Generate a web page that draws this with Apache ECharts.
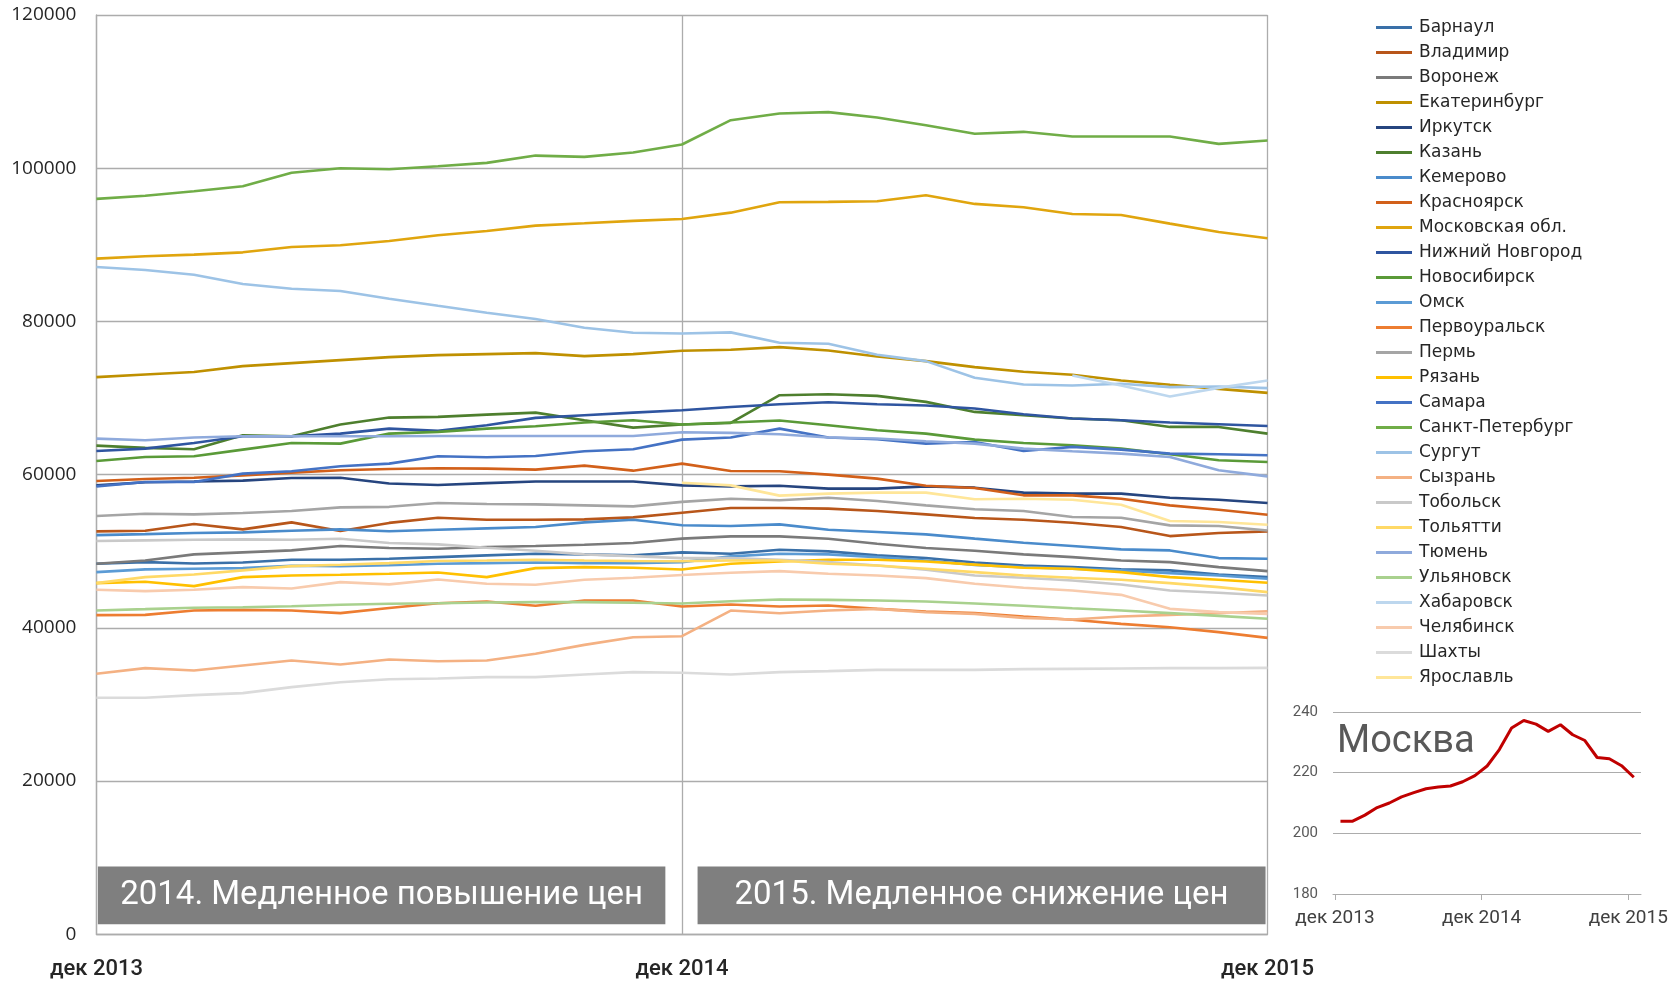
<!DOCTYPE html>
<html>
<head>
<meta charset="utf-8">
<script src="https://cdn.jsdelivr.net/npm/echarts@6/dist/echarts.min.js"></script>
<style>
html, body { margin: 0; padding: 0; background: #fff; }
#chart { width: 1680px; height: 983px; }
</style>
</head>
<body>
<div id="chart"></div>
<script>
// ---- data ----
const tickLabels = ['дек 2013', 'дек 2014', 'дек 2015'];

const cities = [
  'Барнаул', 'Владимир', 'Воронеж', 'Екатеринбург', 'Иркутск', 'Казань', 'Кемерово',
  'Красноярск', 'Московская обл.', 'Нижний Новгород', 'Новосибирск', 'Омск',
  'Первоуральск', 'Пермь', 'Рязань', 'Самара', 'Санкт-Петербург', 'Сургут', 'Сызрань',
  'Тобольск', 'Тольятти', 'Тюмень', 'Ульяновск', 'Хабаровск', 'Челябинск', 'Шахты', 'Ярославль'
];

const colors = [
  '#3A70A8', '#B8561A', '#7A7A7A', '#BF9000', '#26457F', '#4E7F2E', '#4A8BCB',
  '#D2601A', '#E0A50E', '#2F55A0', '#5A9A38', '#5B9BD5',
  '#ED7D31', '#A5A5A5', '#FFC000', '#4472C4', '#70AD47', '#9DC3E6', '#F4B183',
  '#C9C9C9', '#FFD966', '#8FAADC', '#A9D18E', '#BDD7EE', '#F8CBAD', '#DBDBDB', '#FFE699'
];

const barnaul = [48370, 48580, 48410, 48540, 48890, 48890, 49020, 49240, 49460, 49680, 49590, 49460, 49850, 49670, 50200, 49980, 49460, 49110, 48540, 48150, 47930, 47630, 47500, 46970, 46620];
const vladimir = [52590, 52680, 53550, 52860, 53770, 52640, 53700, 54380, 54120, 54120, 54160, 54420, 55030, 55640, 55640, 55560, 55250, 54820, 54350, 54120, 53730, 53160, 51980, 52380, 52590];
const voronezh = [48370, 48800, 49590, 49850, 50110, 50680, 50420, 50330, 50550, 50680, 50850, 51070, 51650, 51940, 51940, 51630, 50980, 50420, 50060, 49590, 49240, 48800, 48580, 47930, 47410];
const ekaterinburg = [72730, 73080, 73390, 74170, 74560, 74950, 75340, 75600, 75730, 75860, 75470, 75730, 76170, 76300, 76650, 76210, 75430, 74820, 74040, 73430, 73040, 72290, 71730, 71200, 70680];
const irkutsk = [58600, 59000, 59100, 59220, 59570, 59600, 58850, 58650, 58900, 59100, 59100, 59100, 58600, 58470, 58560, 58170, 58170, 58470, 58300, 57650, 57520, 57520, 56990, 56730, 56300];
const kazan = [63790, 63490, 63310, 65140, 65010, 66540, 67450, 67540, 67840, 68100, 67100, 66140, 66540, 66750, 70370, 70500, 70280, 69500, 68190, 67760, 67320, 67100, 66230, 66230, 65360];
const kemerovo = [52110, 52240, 52380, 52460, 52680, 52860, 52610, 52810, 52990, 53160, 53770, 54120, 53400, 53290, 53510, 52810, 52510, 52200, 51650, 51110, 50680, 50240, 50110, 49110, 49020];
const krasnoyarsk = [59170, 59430, 59600, 59910, 60260, 60570, 60740, 60830, 60780, 60650, 61180, 60520, 61440, 60480, 60440, 60000, 59480, 58560, 58260, 57300, 57300, 56860, 55990, 55420, 54770];
const moscowRegion = [88200, 88500, 88720, 89020, 89720, 89940, 90500, 91240, 91810, 92510, 92810, 93120, 93380, 94200, 95560, 95600, 95690, 96470, 95340, 94900, 94030, 93900, 92770, 91680, 90850];
const nizhny = [63090, 63400, 64140, 65010, 65010, 65360, 66010, 65710, 66450, 67410, 67760, 68100, 68410, 68840, 69190, 69450, 69190, 69020, 68630, 67890, 67320, 67100, 66800, 66580, 66360];
const novosibirsk = [61790, 62310, 62400, 63270, 64140, 64050, 65360, 65580, 66010, 66320, 66800, 67100, 66540, 66800, 67060, 66450, 65790, 65360, 64570, 64140, 63830, 63400, 62660, 61870, 61660];
const omsk = [47280, 47630, 47710, 47800, 48110, 48060, 48170, 48370, 48450, 48540, 48450, 48450, 48580, 49330, 49670, 49590, 49240, 48800, 48200, 47930, 47710, 47500, 47150, 46840, 46410];
const pervouralsk = [41660, 41700, 42270, 42350, 42270, 41920, 42600, 43220, 43440, 42880, 43570, 43570, 42790, 43050, 42790, 42920, 42480, 42140, 41920, 41480, 41050, 40520, 40090, 39440, 38690];
const perm = [54600, 54900, 54820, 54990, 55250, 55730, 55800, 56300, 56170, 56120, 55990, 55860, 56450, 56860, 56650, 56990, 56560, 55990, 55490, 55250, 54470, 54380, 53380, 53290, 52720];
const ryazan = [45840, 46010, 45450, 46620, 46840, 46930, 47060, 47230, 46620, 47800, 47930, 47840, 47620, 48370, 48670, 48890, 48890, 48670, 48260, 47840, 47710, 47280, 46620, 46280, 45880];
const samara = [58470, 59040, 59040, 60130, 60440, 61090, 61440, 62400, 62270, 62440, 63050, 63310, 64570, 64840, 66010, 64840, 64620, 64050, 64270, 63090, 63620, 63270, 62740, 62660, 62530];
const spb = [96000, 96400, 97000, 97650, 99400, 100000, 99870, 100260, 100700, 101650, 101480, 102050, 103100, 106270, 107150, 107320, 106620, 105620, 104490, 104750, 104140, 104140, 104140, 103180, 103620];
const surgut = [87100, 86710, 86100, 84880, 84270, 83970, 82970, 82050, 81140, 80310, 79180, 78520, 78430, 78570, 77220, 77090, 75650, 74820, 72640, 71770, 71640, 71860, 71420, 71500, 71290];
const syzran = [34000, 34740, 34430, 35090, 35740, 35220, 35870, 35650, 35740, 36610, 37780, 38780, 38910, 42260, 41910, 42260, 42480, 42040, 41830, 41300, 41090, 41480, 41700, 41910, 42170];
const tobolsk = [51330, 51420, 51500, 51550, 51500, 51630, 51070, 50900, 50460, 50070, 49590, 49370, 49100, 49110, 48890, 48580, 48150, 47580, 46840, 46540, 46190, 45670, 44880, 44580, 44230];
const tolyatti = [45840, 46620, 46970, 47500, 48060, 48240, 48450, 48720, 48800, 48890, 48800, 48720, 48690, 48800, 48800, 48370, 48150, 47710, 47280, 46840, 46540, 46280, 45840, 45320, 44660];
const tyumen = [64700, 64490, 64840, 65010, 65010, 65010, 65010, 65050, 65050, 65050, 65050, 65050, 65530, 65450, 65270, 64840, 64710, 64360, 64050, 63400, 63050, 62740, 62310, 60570, 59780];
const ulyanovsk = [42270, 42440, 42620, 42700, 42830, 43010, 43140, 43220, 43310, 43360, 43360, 43270, 43180, 43480, 43700, 43660, 43570, 43440, 43180, 42880, 42570, 42270, 41920, 41570, 41180];
const khabarovsk = [null, null, null, null, null, null, null, null, null, null, null, null, null, null, null, null, null, null, null, null, 72950, 71640, 70200, 71330, 72290];
const chelyabinsk = [44970, 44790, 44970, 45320, 45140, 45970, 45680, 46320, 45750, 45620, 46280, 46540, 46910, 47190, 47410, 47060, 46840, 46490, 45750, 45230, 44880, 44310, 42480, 42050, 41830];
const shakhty = [30870, 30870, 31220, 31480, 32260, 32910, 33300, 33390, 33570, 33570, 33910, 34220, 34150, 33910, 34220, 34350, 34520, 34520, 34520, 34610, 34650, 34700, 34740, 34740, 34780];
const yaroslavl = [null, null, null, null, null, null, null, null, null, null, null, null, 58950, 58600, 57260, 57520, 57650, 57650, 56780, 56860, 56730, 56080, 53940, 53810, 53460];

const cityValues = [
  barnaul, vladimir, voronezh, ekaterinburg, irkutsk, kazan, kemerovo,
  krasnoyarsk, moscowRegion, nizhny, novosibirsk, omsk,
  pervouralsk, perm, ryazan, samara, spb, surgut, syzran,
  tobolsk, tolyatti, tyumen, ulyanovsk, khabarovsk, chelyabinsk, shakhty, yaroslavl
];

// Москва, inset (mid-month readings)
const moscow = [204, 204, 206, 208.5, 210, 212, 213.4, 214.7, 215.3, 215.6, 217, 219, 222.2, 227.6, 234.7, 237.2, 236, 233.6, 235.8, 232.5, 230.6, 225, 224.6, 222.3, 218.5];
const moscowOffset = 0.45;

// period boxes: [x from, x to] in months, [y from, y to] in axis units
const periods = [
  { text: '2014. Медленное повышение цен', x: [0.03, 11.66], y: [1300, 8850] },
  { text: '2015. Медленное снижение цен', x: [12.32, 23.96], y: [1300, 8850] }
];

// ---- chart ----
const chart = echarts.init(document.getElementById('chart'));

const gridColor = '#ACACAC';
const toPairs = arr => arr.map((v, i) => [i, v]).filter(p => p[1] != null);

const citySeries = cities.map((name, k) => ({
  name: name,
  type: 'line',
  xAxisIndex: 0,
  yAxisIndex: 0,
  data: toPairs(cityValues[k]),
  symbol: 'none',
  lineStyle: { color: colors[k], width: 2.6 },
  itemStyle: { color: colors[k] },
  emphasis: { disabled: true },
  z: 3
}));

citySeries[0].markArea = {
  silent: true,
  itemStyle: { color: '#7F7F7F', opacity: 1 },
  label: {
    show: true,
    position: 'inside',
    color: '#ffffff',
    fontSize: 33,
    fontFamily: 'Roboto',
    fontWeight: 'normal'
  },
  data: periods.map(p => [
    { name: p.text, xAxis: p.x[0], yAxis: p.y[0] },
    { xAxis: p.x[1], yAxis: p.y[1] }
  ])
};

const option = {
  animation: false,
  backgroundColor: '#ffffff',
  title: {
    text: 'Москва',
    left: 1332,
    top: 718,
    textStyle: { fontFamily: 'Roboto', fontSize: 38, fontWeight: 'normal', color: '#595959' }
  },
  legend: {
    data: cities,
    orient: 'vertical',
    left: 1371,
    top: 14,
    icon: 'rect',
    itemWidth: 36,
    itemHeight: 3,
    itemGap: 8,
    textStyle: {
      fontFamily: 'DejaVu Sans',
      fontSize: 17,
      lineHeight: 17,
      color: '#262626',
      padding: [0, 0, 0, 2]
    }
  },
  grid: [
    { left: 96.4, right: 412.5, top: 15, bottom: 48.7 },
    { left: 1333, right: 39, top: 712, height: 182 }
  ],
  xAxis: [
    {
      type: 'value',
      gridIndex: 0,
      min: 0,
      max: 24,
      interval: 12,
      axisLine: { show: true, lineStyle: { color: gridColor, width: 1.3 } },
      axisTick: { show: false },
      splitLine: { show: true, lineStyle: { color: gridColor, width: 1.3 } },
      axisLabel: {
        formatter: v => tickLabels[v / 12],
        fontFamily: 'Roboto',
        fontWeight: 500,
        fontSize: 22,
        color: '#262626',
        margin: 24
      }
    },
    {
      type: 'value',
      gridIndex: 1,
      min: -0.16,
      max: 25.04,
      axisLine: { show: true, lineStyle: { color: gridColor } },
      axisTick: { show: true, customValues: [0, 12, 24], length: 6, lineStyle: { color: gridColor } },
      splitLine: { show: false },
      axisLabel: {
        customValues: [0, 12, 24],
        formatter: v => tickLabels[Math.round(v / 12)],
        fontFamily: 'Roboto',
        fontSize: 19,
        color: '#404040',
        margin: 15
      }
    }
  ],
  yAxis: [
    {
      type: 'value',
      gridIndex: 0,
      min: 0,
      max: 120000,
      interval: 20000,
      axisLine: { show: true, lineStyle: { color: gridColor, width: 1.3 } },
      axisTick: { show: false },
      splitLine: { show: true, lineStyle: { color: gridColor, width: 1.3 } },
      axisLabel: {
        formatter: v => String(v),
        fontFamily: 'Open Sans',
        fontSize: 19,
        color: '#262626',
        margin: 20
      }
    },
    {
      type: 'value',
      gridIndex: 1,
      min: 180,
      max: 240,
      interval: 20,
      axisLine: { show: false },
      axisTick: { show: false },
      splitLine: { show: true, lineStyle: { color: gridColor } },
      axisLabel: {
        fontFamily: 'Roboto',
        fontSize: 15,
        color: '#595959',
        margin: 15
      }
    }
  ],
  series: citySeries.concat([{
    name: 'Москва',
    type: 'line',
    xAxisIndex: 1,
    yAxisIndex: 1,
    data: moscow.map((v, i) => [i + moscowOffset, v]),
    symbol: 'none',
    lineStyle: { color: '#C00000', width: 3 },
    emphasis: { disabled: true }
  }])
};

chart.setOption(option);
</script>
</body>
</html>
